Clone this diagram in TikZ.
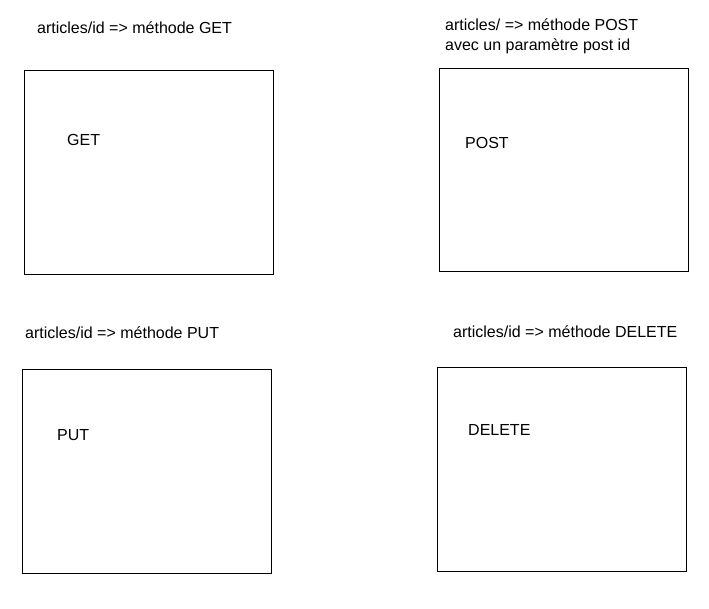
\documentclass[tikz,border=0pt]{standalone}
\usepackage{fontspec}
\setmainfont{Liberation Sans}
\begin{document}
\begin{tikzpicture}[x=1pt,y=-1pt,
  box/.style={draw=black,line width=0.8pt},
  lbl/.style={inner sep=0pt,anchor=west,font=\fontsize{16}{19}\selectfont}]
\useasboundingbox (0,0) rectangle (709,608);
\draw[box] (24,70) rectangle (273,274) node[pos=0,inner sep=0pt] (b1) {};
\draw[box] (439,68) rectangle (688,271) node[pos=0,inner sep=0pt] (b2) {};
\draw[box] (22,369) rectangle (271,573) node[pos=0,inner sep=0pt] (b3) {};
\draw[box] (437,367) rectangle (686,571) node[pos=0,inner sep=0pt] (b4) {};
\node[lbl] (t1) at (37,28) {articles/id => méthode GET};
\node[lbl] (t2) at (445,25) {articles/ => méthode POST};
\node[lbl] (t2b) at (445,46) {avec un paramètre post id};
\node[lbl] (t3) at (25,333) {articles/id => méthode PUT};
\node[lbl] (t4) at (453,332) {articles/id => méthode DELETE};
\node[lbl] (g) at (67,140) {GET};
\node[lbl] (p) at (465,143) {POST};
\node[lbl] (u) at (57,435) {PUT};
\node[lbl] (d) at (468,430) {DELETE};
\end{tikzpicture}
\end{document}
